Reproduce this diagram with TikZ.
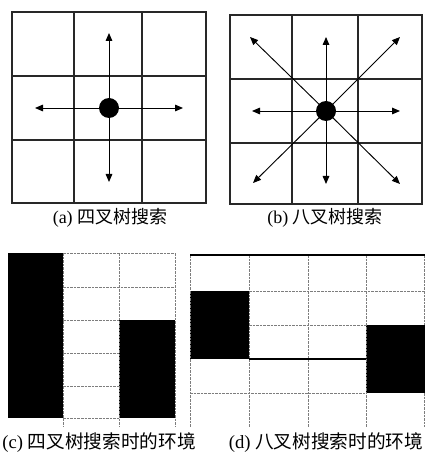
\documentclass[tikz,border=0pt]{standalone}
\usepackage{fontspec}
\setmainfont{Liberation Serif}
\newfontfamily\cjk{Noto Sans CJK SC}
\usepackage{tikz}
\usetikzlibrary{arrows.meta,positioning}
\definecolor{gridgray}{RGB}{40,40,40}
\definecolor{lightgrid}{RGB}{125,125,125}

\tikzset{
  cell/.style={draw=gridgray,line width=1.3pt},
  dashgrid/.style={draw=lightgrid,line width=0.6pt,dash pattern=on 2pt off 0.7pt},
  probe/.style={line width=0.7pt,-{Triangle[length=6pt,width=5pt]}},
  robot/.style={circle,fill=black,inner sep=0pt,minimum size=15pt},
  capsmall/.style={font=\fontsize{13.5}{16}\selectfont},
  capbig/.style={font=\fontsize{14}{17}\selectfont},
}

\begin{document}
\begin{tikzpicture}[x=0.75pt,y=-0.75pt]
    \useasboundingbox (0,0) rectangle (425,463);

    % (a) four directions
    \draw[cell] (12,12) rectangle (206,203);
    \draw[cell] (74,12) -- (74,203) (142,12) -- (142,203) (12,76) -- (206,76) (12,140) -- (206,140);
    \coordinate (qc) at (109,108);
    \foreach \n/\x/\y in {n/109/33,s/109/182,w/35/108,e/183/108}
        \coordinate (q\n) at (\x,\y);
    \foreach \n in {n,s,w,e}
        \draw[probe] (qc) -- (q\n);
    \node[robot] (qdot) at (qc) {};
    \node[capsmall] (capa) at (110,218) {(a) {\cjk 四叉树搜索}};

    % (b) eight directions
    \draw[cell] (230,15) rectangle (422,204);
    \draw[cell] (292,15) -- (292,204) (358,15) -- (358,204) (230,79) -- (422,79) (230,143) -- (422,143);
    \coordinate (oc) at (326,111);
    \foreach \n/\x/\y in {n/326/37,s/326/184,w/252/111,e/400/111,nw/250/37,ne/400/37,sw/253/183,se/400/184}
        \coordinate (o\n) at (\x,\y);
    \foreach \n in {n,s,w,e,nw,ne,sw,se}
        \draw[probe] (oc) -- (o\n);
    \node[robot] (odot) at (oc) {};
    \node[capsmall] (capb) at (325,218) {(b) {\cjk 八叉树搜索}};

    % (c) environment, four directions
    \fill (8,253) rectangle (63,418);
    \fill (119,320) rectangle (175,418);
    \draw[dashgrid] (63,253) -- (63,427) (119,253) -- (119,427) (175,253) -- (175,427);
    \draw[dashgrid] (63,253) -- (175,253) (63,287) -- (175,287) (63,320) -- (119,320)
        (63,353) -- (119,353) (63,386) -- (119,386) (63,418) -- (119,418);
    \node[capbig] (capc) at (99,443) {(c) {\cjk 四叉树搜索时的环境}};

    % (d) environment, eight directions
    \fill (190,291) rectangle (249,359);
    \fill (366,325) rectangle (425,393);
    \foreach \x in {190,249,308,366}
        \draw[dashgrid] (\x,255) -- (\x,427);
    \draw[dashgrid] (424,255) -- (424,325) (424,393) -- (424,427);
    \draw[line width=0.9pt] (190,255) -- (425,255);
    \draw[dashgrid] (249,291) -- (425,291) (249,325) -- (366,325) (190,393) -- (366,393);
    \draw[line width=0.9pt] (249,359) -- (366,359);
    \node[capbig] (capd) at (326,443) {(d) {\cjk 八叉树搜索时的环境}};
\end{tikzpicture}
\end{document}
